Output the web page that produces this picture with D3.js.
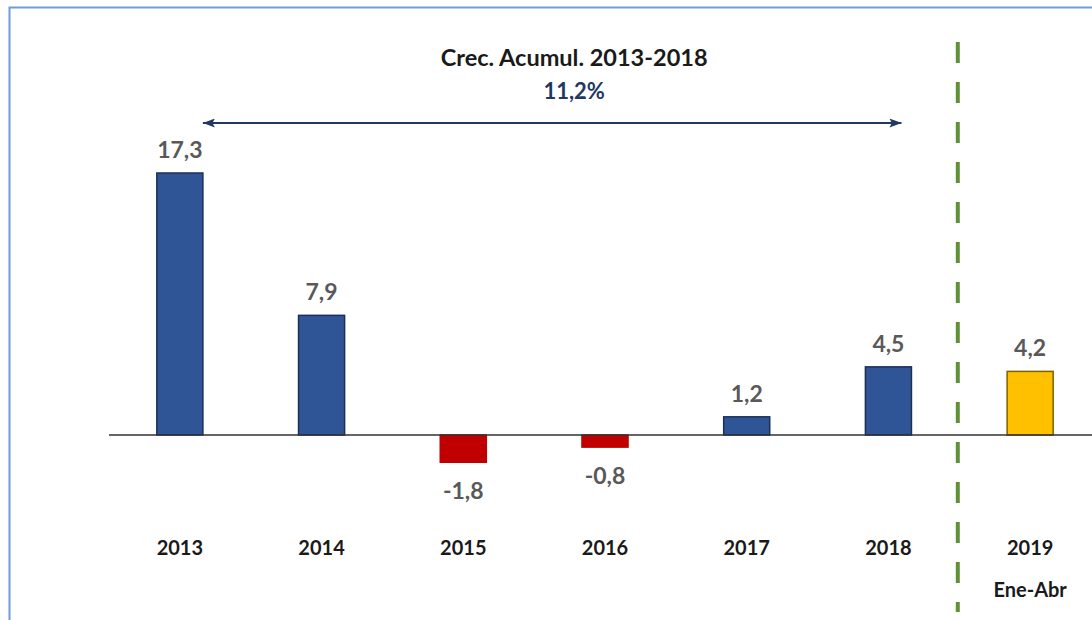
<!DOCTYPE html>
<html>
<head>
<meta charset="utf-8">
<script src="https://cdn.jsdelivr.net/npm/d3@7"></script>
<style>
  html, body { margin: 0; padding: 0; background: #fff; }
  svg { display: block; }
  text { font-family: Lato, "Open Sans", sans-serif; }
</style>
</head>
<body>
<svg id="chart" width="1092" height="620"></svg>
<script>
// Annual growth (%) by year; 2019 covers January–April only
const categories = ["2013", "2014", "2015", "2016", "2017", "2018", "2019"];
const values = [17.3, 7.9, -1.8, -0.8, 1.2, 4.5, 4.2];
const valueLabels = ["17,3", "7,9", "-1,8", "-0,8", "1,2", "4,5", "4,2"];
const subLabels = ["", "", "", "", "", "", "Ene-Abr"];
const cumulativeTitle = "Crec. Acumul. 2013-2018";
const cumulativeValue = "11,2%";

const svg = d3.select("#chart");
const W = 1092, H = 620;

// Frame
svg.append("rect")
  .attr("x", 9.5).attr("y", 7.5)
  .attr("width", 1100).attr("height", 640)
  .attr("fill", "none")
  .attr("stroke", "#6f9bd8")
  .attr("stroke-width", 2);

const x = d3.scaleBand()
  .domain(categories)
  .range([109, 1101])
  .paddingInner(0.675)
  .paddingOuter(0.3375);

const y = d3.scaleLinear()
  .domain([0, 17.3])
  .range([435, 173]);

const fillFor = (d, i) => i === categories.length - 1 ? "#ffc000" : (d < 0 ? "#c00000" : "#2f5597");
const strokeFor = (d, i) => i === categories.length - 1 ? "#7f6000" : (d < 0 ? "#c00000" : "#1c2f55");

// Bars
svg.append("g").selectAll("rect")
  .data(values)
  .join("rect")
  .attr("x", (d, i) => x(categories[i]))
  .attr("width", x.bandwidth())
  .attr("y", d => y(Math.max(0, d)))
  .attr("height", d => Math.abs(y(d) - y(0)))
  .attr("fill", fillFor)
  .attr("stroke", strokeFor)
  .attr("stroke-width", 1.5);

// Zero line
svg.append("line")
  .attr("x1", x.range()[0]).attr("x2", W)
  .attr("y1", y(0)).attr("y2", y(0))
  .attr("stroke", "#333")
  .attr("stroke-width", 1.5);

// Value labels
svg.append("g").selectAll("text")
  .data(values)
  .join("text")
  .attr("x", (d, i) => x(categories[i]) + x.bandwidth() / 2)
  .attr("y", d => d >= 0 ? y(d) - 15 : y(d) + 37)
  .attr("text-anchor", "middle")
  .attr("font-size", 23)
  .attr("font-weight", 700)
  .attr("fill", "#595959")
  .text((d, i) => valueLabels[i]);

// Category labels
const axis = svg.append("g");
axis.selectAll("text.cat")
  .data(categories)
  .join("text")
  .attr("class", "cat")
  .attr("x", d => x(d) + x.bandwidth() / 2)
  .attr("y", 555)
  .attr("text-anchor", "middle")
  .attr("font-size", 20)
  .attr("font-weight", 700)
  .attr("fill", "#1a1a1a")
  .text(d => d);
axis.selectAll("text.sub")
  .data(categories.filter((d, i) => subLabels[i]))
  .join("text")
  .attr("class", "sub")
  .attr("x", d => x(d) + x.bandwidth() / 2)
  .attr("y", 597)
  .attr("text-anchor", "middle")
  .attr("font-size", 20)
  .attr("font-weight", 700)
  .attr("fill", "#1a1a1a")
  .text(d => subLabels[categories.indexOf(d)]);

// Separator between full years and the partial year
const sepX = (x("2018") + x("2019") + x.bandwidth()) / 2 - 1.5;
svg.append("line")
  .attr("x1", sepX).attr("x2", sepX)
  .attr("y1", 42).attr("y2", 612)
  .attr("stroke", "#5f9138")
  .attr("stroke-width", 4)
  .attr("stroke-dasharray", "21 19");

// Cumulative growth arrow
const defs = svg.append("defs");
["start", "end"].forEach(k => {
  defs.append("marker")
    .attr("id", "arrow-" + k)
    .attr("viewBox", "0 0 10 10")
    .attr("refX", k === "end" ? 10 : 0).attr("refY", 5)
    .attr("markerWidth", 12).attr("markerHeight", 9)
    .attr("markerUnits", "userSpaceOnUse")
    .attr("orient", "auto")
    .attr("preserveAspectRatio", "none")
    .append("path")
    .attr("d", k === "end" ? "M0,0 L10,5 L0,10 L2,5 Z" : "M10,0 L0,5 L10,10 L8,5 Z")
    .attr("fill", "#1f3864");
});
const arrowY = 123;
const arrowX1 = x("2013") + x.bandwidth();
const arrowX2 = x("2018") + x.bandwidth() - 10;
svg.append("line")
  .attr("x1", arrowX1)
  .attr("x2", arrowX2)
  .attr("y1", arrowY).attr("y2", arrowY)
  .attr("stroke", "#1f3864")
  .attr("stroke-width", 2)
  .attr("marker-start", "url(#arrow-start)")
  .attr("marker-end", "url(#arrow-end)");

const titleX = (x("2015") + x("2016") + x.bandwidth()) / 2 + 40;
svg.append("text")
  .attr("x", titleX).attr("y", 66)
  .attr("text-anchor", "middle")
  .attr("font-size", 23.5).attr("font-weight", 700)
  .attr("fill", "#1a1a1a")
  .text(cumulativeTitle);
svg.append("text")
  .attr("x", titleX).attr("y", 99)
  .attr("text-anchor", "middle")
  .attr("font-size", 22).attr("font-weight", 700)
  .attr("fill", "#1f3864")
  .text(cumulativeValue);
</script>
</body>
</html>
